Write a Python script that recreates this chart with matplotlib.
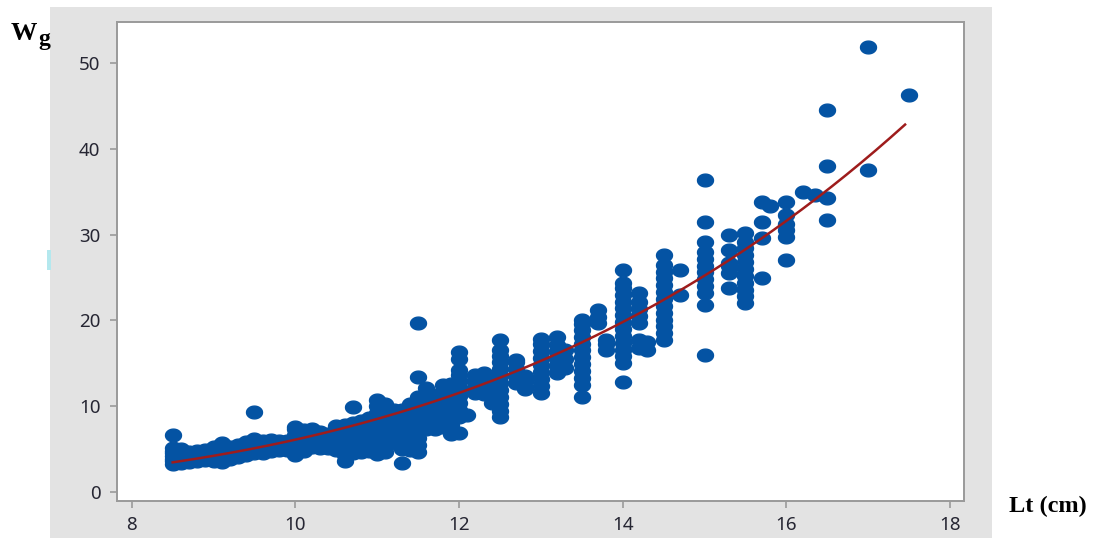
import numpy as np
import matplotlib
matplotlib.use("Agg")
import matplotlib.pyplot as plt
from matplotlib.patches import Rectangle
from matplotlib.path import Path

# ---- data: total length (cm) columns and body weight (g) values in each ----
col_lt = [8.5, 8.6, 8.7, 8.8, 8.9, 9.0, 9.1, 9.2, 9.3, 9.4, 9.5, 9.6, 9.7, 9.8, 9.9,
          10.0, 10.1, 10.2, 10.3, 10.4, 10.5, 10.6, 10.7, 10.8, 10.9,
          11.0, 11.1, 11.2, 11.3, 11.4, 11.5, 11.6, 11.7, 11.8, 11.9,
          12.0, 12.1, 12.2, 12.3, 12.4, 12.5, 12.7, 12.8, 13.0, 13.2, 13.3, 13.5,
          13.7, 13.8, 14.0, 14.2, 14.3, 14.5, 14.7, 15.0, 15.3, 15.5, 15.7, 15.8,
          16.0, 16.2, 16.35, 16.5, 17.0, 17.5]
col_wg = [
    [3.3, 3.6, 3.9, 4.2, 4.5, 4.8, 5.1, 6.6],
    [3.4, 3.8, 4.2, 4.6, 5.0],
    [3.5, 3.9, 4.3, 4.7],
    [3.6, 4.0, 4.4, 4.8],
    [3.7, 4.1, 4.5, 4.9],
    [3.6, 4.0, 4.4, 4.8, 5.3],
    [3.5, 4.0, 4.5, 5.0, 5.7],
    [3.9, 4.3, 4.8, 5.3],
    [4.1, 4.6, 5.1, 5.5],
    [4.3, 4.8, 5.3, 5.8],
    [4.5, 5.0, 5.5, 6.2, 9.3],
    [4.6, 5.1, 5.6, 6.0],
    [4.8, 5.3, 5.8, 6.1],
    [4.9, 5.4, 5.9],
    [4.9, 5.4, 5.9],
    [4.3, 4.9, 5.5, 6.1, 6.7, 7.3, 7.6],
    [4.8, 5.4, 6.0, 6.6, 7.2],
    [5.2, 5.8, 6.4, 7.0, 7.4],
    [5.1, 5.8, 6.5, 7.0],
    [5.1, 5.7, 6.3, 6.8],
    [4.9, 5.6, 6.3, 7.0, 7.7],
    [3.6, 4.3, 5.0, 5.7, 6.4, 7.1, 7.8],
    [4.5, 5.2, 5.9, 6.6, 7.3, 8.0, 9.9],
    [4.7, 5.4, 6.1, 6.8, 7.5, 8.3],
    [4.8, 5.6, 6.4, 7.2, 8.0, 8.6],
    [4.4, 5.2, 6.0, 6.8, 7.6, 8.4, 9.2, 10.0, 10.7],
    [4.7, 5.5, 6.3, 7.1, 7.9, 8.7, 9.5, 10.3],
    [5.7, 6.5, 7.3, 8.1, 8.9, 9.6],
    [3.4, 5.0, 5.8, 6.6, 7.4, 8.2, 9.0, 9.6],
    [4.9, 5.7, 6.5, 7.3, 8.1, 8.9, 9.7, 10.3],
    [4.7, 5.5, 6.3, 7.1, 7.9, 8.7, 9.5, 10.3, 11.1, 13.4, 19.7],
    [7.4, 8.2, 9.0, 9.8, 10.6, 11.4, 12.1],
    [7.3, 8.1, 8.9, 9.7, 10.5, 11.3],
    [7.6, 8.4, 9.2, 10.0, 10.8, 11.6, 12.5],
    [6.8, 7.8, 8.6, 9.4, 10.2, 11.0, 11.8, 12.6],
    [6.9, 8.7, 9.6, 10.4, 11.2, 12.0, 12.8, 13.6, 14.2, 15.5, 16.3],
    [9.0],
    [11.5, 12.3, 13.1, 13.6],
    [11.4, 12.2, 13.0, 13.9],
    [10.4, 11.2, 12.0, 12.8, 13.4],
    [8.7, 9.5, 10.3, 11.1, 11.9, 12.7, 13.5, 14.3, 15.1, 15.9, 16.6, 17.7],
    [12.7, 13.5, 14.3, 15.1, 15.4],
    [12.0, 12.8, 13.5],
    [11.6, 12.4, 13.2, 14.0, 14.8, 15.6, 16.4, 17.2, 17.8],
    [13.9, 14.7, 15.5, 16.3, 17.1, 18.1],
    [14.5, 15.5, 16.5],
    [11.1, 12.5, 13.3, 14.1, 14.9, 15.7, 16.5, 17.3, 18.1, 18.9, 19.6, 20.0],
    [19.7, 20.4, 21.2],
    [16.5, 17.2, 17.7],
    [12.8, 15.0, 15.8, 16.6, 17.4, 18.2, 19.0, 19.8, 20.6, 21.4, 22.2, 23.0, 23.8, 24.4, 25.9],
    [16.8, 17.7, 19.7, 20.5, 21.3, 22.1, 23.2],
    [16.5, 17.5],
    [17.7, 18.5, 19.3, 20.1, 20.9, 21.7, 22.5, 23.3, 24.1, 24.9, 25.7, 26.5, 27.6],
    [23.0, 25.9],
    [16.0, 21.8, 23.2, 24.0, 24.8, 25.6, 26.4, 27.2, 28.0, 29.1, 31.5, 36.4],
    [23.8, 25.5, 26.3, 26.7, 28.2, 30.0],
    [22.0, 22.8, 23.6, 24.4, 25.2, 26.0, 26.8, 27.6, 28.4, 29.2, 30.2],
    [24.9, 29.6, 31.5, 33.8],
    [33.4],
    [27.0, 29.7, 30.5, 31.3, 32.3, 33.8],
    [35.0],
    [34.6],
    [31.7, 34.3, 38.0, 44.5],
    [37.5, 51.9],
    [46.3],
]

# fitted power curve W = a * Lt^b (parameters)
fit_a = 0.00193
fit_b = 3.5
fit_range = [8.5, 17.45]

x_ticks = [8, 10, 12, 14, 16, 18]
y_ticks = [0, 10, 20, 30, 40, 50]

# ---- build flat arrays ----
lt = np.concatenate([[x] * len(ys) for x, ys in zip(col_lt, col_wg)])
wg = np.concatenate(col_wg)

W, H = 1103, 538
fig = plt.figure(figsize=(W / 100, H / 100), dpi=100)
fig.patch.set_facecolor("white")

# gray panel (as a background axes)
bg = fig.add_axes([50 / W, 0, (992 - 50) / W, 1 - 7 / H], zorder=-5)
bg.set_facecolor("#e3e3e3")
bg.set_xticks([])
bg.set_yticks([])
for s in bg.spines.values():
    s.set_visible(False)
# small cyan artifact at left edge
fig.patches.append(Rectangle((47 / W, 1 - 270 / H), 4 / W, 20 / H,
                             transform=fig.transFigure, facecolor="#b4e8ee",
                             edgecolor="none", zorder=-1))

ax = fig.add_axes([117 / W, 1 - 501 / H, (964 - 117) / W, (501 - 22) / H], zorder=1)
ax.set_facecolor("white")

# elliptical marker (wider than tall)
t = np.linspace(0, 2 * np.pi, 40)
ell = Path(np.column_stack([np.cos(t), 0.8 * np.sin(t)]), closed=True)

ax.plot(lt, wg, linestyle="none", marker=ell, markersize=11.5,
        markerfacecolor="#0453a3", markeredgecolor="#0453a3", zorder=2)

xf = np.linspace(fit_range[0], fit_range[1], 200)
ax.plot(xf, fit_a * xf ** fit_b, color="#9e1c1c", lw=1.8, zorder=3)

ax.set_xlim(7.82, 18.17)
ax.set_ylim(-1.05, 54.8)
ax.set_xticks(x_ticks)
ax.set_yticks(y_ticks)
for s in ax.spines.values():
    s.set_color("#9a9a9a")
    s.set_linewidth(1.4)
ax.tick_params(axis="both", direction="out", length=5, width=1.2,
               color="#9a9a9a", labelcolor="#262633", labelsize=13.5)
ax.tick_params(axis="y", pad=7)
ax.tick_params(axis="x", pad=6)
for lab in ax.get_xticklabels() + ax.get_yticklabels():
    lab.set_fontfamily("Noto Sans")

# axis titles outside the panel (bold serif)
fig.text(11 / W, 1 - 40 / H, "W", fontfamily="Liberation Serif",
         fontweight="bold", fontsize=19, ha="left", va="baseline", color="black")
fig.text(38 / W, 1 - 45 / H, "g", fontfamily="Liberation Serif",
         fontweight="bold", fontsize=17, ha="left", va="baseline", color="black")
fig.text(1009 / W, 1 - 512 / H, "Lt (cm)", fontfamily="Liberation Serif",
         fontweight="bold", fontsize=17.5, ha="left", va="baseline", color="black")

fig.savefig("out.png", dpi=100)
